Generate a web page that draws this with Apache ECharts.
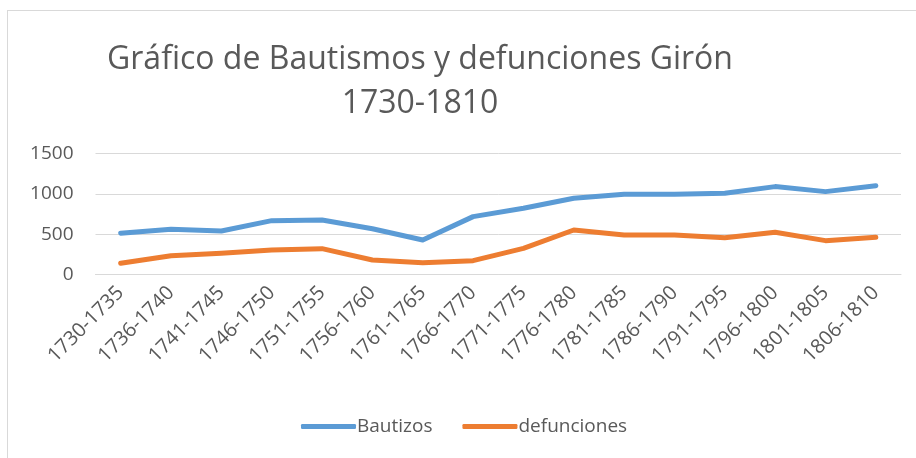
<!DOCTYPE html>
<html>
<head>
<meta charset="utf-8">
<script src="https://cdn.jsdelivr.net/npm/echarts@6/dist/echarts.min.js"></script>
<style>
  html, body { margin: 0; padding: 0; background: #fff; }
  #chart { width: 916px; height: 458px; position: relative; }
  .frame { position: absolute; left: 7px; top: 10px; width: 1000px; height: 500px; border: 1px solid #d9d9d9; box-sizing: border-box; }
</style>
</head>
<body>
<div style="position:relative;width:916px;height:458px;overflow:hidden;">
  <div class="frame"></div>
  <div id="chart"></div>
</div>
<script>
// periodos de cinco años
const periodos = ['1730-1735', '1736-1740', '1741-1745', '1746-1750', '1751-1755', '1756-1760',
  '1761-1765', '1766-1770', '1771-1775', '1776-1780', '1781-1785', '1786-1790',
  '1791-1795', '1796-1800', '1801-1805', '1806-1810']
// valores
const bautizos = [515, 563, 542, 670, 679, 570, 430, 720, 824, 948, 997, 998, 1010, 1092, 1030, 1104]
const defunciones = [141, 236, 265, 306, 323, 182, 149, 174, 327, 554, 493, 493, 459, 526, 422, 464]
const yTicks = { min: 0, max: 1500, interval: 500 }

const chart = echarts.init(document.getElementById('chart'))
const txt = '#595959'
chart.setOption({
  animation: false,
  color: ['#5B9BD5', '#ED7D31'],
  title: {
    text: 'Gráfico de Bautismos y defunciones Girón\n1730-1810',
    left: 415,
    top: 33,
    textAlign: 'center',
    textStyle: {
      fontFamily: 'Open Sans',
      fontWeight: 'normal',
      fontSize: 32,
      lineHeight: 44,
      color: txt,
      align: 'center'
    }
  },
  legend: {
    left: 296,
    top: 412,
    itemWidth: 55,
    itemHeight: 5,
    itemGap: 30,
    icon: 'roundRect',
    textStyle: { fontFamily: 'Open Sans', fontSize: 19, color: txt, padding: [0, 0, 0, -4] },
    data: ['Bautizos', 'defunciones']
  },
  grid: { left: 95.5, right: 15, top: 153.7, bottom: 183.3 },
  xAxis: {
    type: 'category',
    data: periodos,
    boundaryGap: true,
    axisLine: { lineStyle: { color: '#d9d9d9', width: 1 } },
    axisTick: { show: false },
    axisLabel: {
      interval: 0,
      rotate: 45,
      margin: 15,
      fontFamily: 'Open Sans',
      fontSize: 20,
      color: txt
    }
  },
  yAxis: {
    type: 'value',
    min: yTicks.min,
    max: yTicks.max,
    interval: yTicks.interval,
    axisLine: { show: false },
    axisTick: { show: false },
    splitLine: { lineStyle: { color: '#d9d9d9', width: 1 } },
    axisLabel: {
      margin: 22,
      fontFamily: 'Open Sans',
      fontSize: 19,
      color: txt,
      formatter: v => String(v)
    }
  },
  series: [{
    name: 'Bautizos',
    type: 'line',
    data: bautizos,
    showSymbol: false,
    lineStyle: { width: 5, cap: 'round', join: 'round' }
  }, {
    name: 'defunciones',
    type: 'line',
    data: defunciones,
    showSymbol: false,
    lineStyle: { width: 5, cap: 'round', join: 'round' }
  }]
})
</script>
</body>
</html>
